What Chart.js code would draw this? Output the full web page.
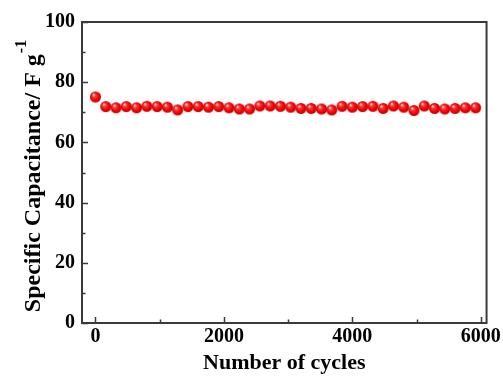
<!DOCTYPE html>
<html>
<head>
<meta charset="utf-8">
<script src="https://cdn.jsdelivr.net/npm/chart.js@4"></script>
<style>
  html, body { margin: 0; padding: 0; background: #fff; }
  #wrap { width: 503px; height: 377px; }
</style>
</head>
<body>
<div id="wrap"><canvas id="cycles"></canvas></div>
<script>
// data
const cycles = [0, 160, 320, 480, 640, 800, 960, 1120, 1280, 1440, 1600, 1760, 1920, 2080, 2240, 2400,
  2560, 2720, 2880, 3040, 3200, 3360, 3520, 3680, 3840, 4000, 4160, 4320, 4480, 4640, 4800, 4960,
  5120, 5280, 5440, 5600, 5760, 5920];
const capacitance = [75.1, 71.9, 71.5, 71.9, 71.5, 72.0, 71.9, 71.7, 70.8, 71.9, 71.9, 71.7, 71.9, 71.5, 71.1, 71.1,
  72.1, 72.1, 72.0, 71.7, 71.3, 71.3, 71.1, 70.8, 72.0, 71.7, 71.9, 72.0, 71.3, 72.1, 71.7, 70.6,
  72.1, 71.3, 71.1, 71.3, 71.5, 71.5];
const xTicks = [0, 2000, 4000, 6000];
const xMinor = [1000, 3000, 5000];
const yTicks = [0, 20, 40, 60, 80, 100];
const yMinor = [10, 30, 50, 70, 90];

const FONT = "'Liberation Serif', 'Times New Roman', serif";
const AXIS = "#3a3a3a";

// shiny red ball used as the point marker
function ball(r) {
  const c = document.createElement("canvas");
  const s = Math.ceil(r * 2) + 2;
  c.width = s; c.height = s;
  const g = c.getContext("2d");
  const m = s / 2;
  const grad = g.createRadialGradient(m - r * 0.35, m - r * 0.4, r * 0.1, m, m, r);
  grad.addColorStop(0, "#ffe0e0");
  grad.addColorStop(0.25, "#ff3535");
  grad.addColorStop(0.7, "#f00000");
  grad.addColorStop(1, "#b80000");
  g.fillStyle = grad;
  g.beginPath();
  g.arc(m, m, r, 0, Math.PI * 2);
  g.fill();
  return c;
}

const frame = {
  id: "frame",
  afterDraw(chart) {
    const { ctx, chartArea: a, scales } = chart;
    ctx.save();
    ctx.strokeStyle = AXIS;
    ctx.lineWidth = 2;
    ctx.strokeRect(a.left, a.top, a.right - a.left, a.bottom - a.top);
    ctx.lineWidth = 1.5;
    ctx.beginPath();
    const tickX = (v, len) => {
      const x = Math.round(scales.x.getPixelForValue(v)) + 0.5;
      ctx.moveTo(x, a.bottom); ctx.lineTo(x, a.bottom - len);
    };
    const tickY = (v, len) => {
      const y = Math.round(scales.y.getPixelForValue(v)) + 0.5;
      ctx.moveTo(a.left, y); ctx.lineTo(a.left + len, y);
    };
    xTicks.forEach(v => tickX(v, 6));
    xMinor.forEach(v => tickX(v, 3.5));
    yTicks.forEach(v => tickY(v, 6));
    yMinor.forEach(v => tickY(v, 3.5));
    ctx.stroke();

    // y title with superscript
    ctx.fillStyle = "#000";
    ctx.translate(27, (a.top + a.bottom) / 2 + 4);
    ctx.rotate(-Math.PI / 2);
    const main = "Specific Capacitance/ F g";
    ctx.font = "bold 16px " + FONT;
    const supW = ctx.measureText("-1").width;
    ctx.font = "bold 24px " + FONT;
    const mainW = ctx.measureText(main).width;
    const x0 = -(mainW + supW) / 2;
    ctx.textBaseline = "middle";
    ctx.textAlign = "left";
    ctx.fillText(main, x0, 7);
    ctx.font = "bold 16px " + FONT;
    ctx.fillText("-1", x0 + mainW + 1, -5);
    ctx.restore();
  }
};

new Chart(document.getElementById("cycles"), {
  type: "scatter",
  data: {
    datasets: [{
      data: cycles.map((c, i) => ({ x: c, y: capacitance[i] })),
      pointStyle: ball(5.5),
      pointRadius: 5.5,
      showLine: false
    }]
  },
  options: {
    responsive: true,
    maintainAspectRatio: false,
    animation: false,
    layout: { padding: { top: 22, right: 16, left: 0, bottom: 0 } },
    plugins: { legend: { display: false }, tooltip: { enabled: false } },
    scales: {
      x: {
        type: "linear",
        min: -210,
        max: 6090,
        afterBuildTicks: s => { s.ticks = xTicks.map(v => ({ value: v })); },
        afterFit: s => { s.height = 54; },
        grid: { display: false, drawTicks: false },
        border: { display: false },
        ticks: { color: "#000", padding: 2, maxRotation: 0, callback: v => String(v),
          font: { family: FONT, size: 20, weight: "bold" } },
        title: { display: true, text: "Number of cycles", color: "#000", padding: { top: 5, bottom: 0 },
          font: { family: FONT, size: 22, weight: "bold" } }
      },
      y: {
        min: 0,
        max: 100,
        afterBuildTicks: s => { s.ticks = yTicks.map(v => ({ value: v })); },
        afterFit: s => { s.width = 82; },
        grid: { display: false, drawTicks: false },
        border: { display: false },
        ticks: { color: "#000", padding: 7, font: { family: FONT, size: 20, weight: "bold" } }
      }
    }
  },
  plugins: [frame]
});
</script>
</body>
</html>
